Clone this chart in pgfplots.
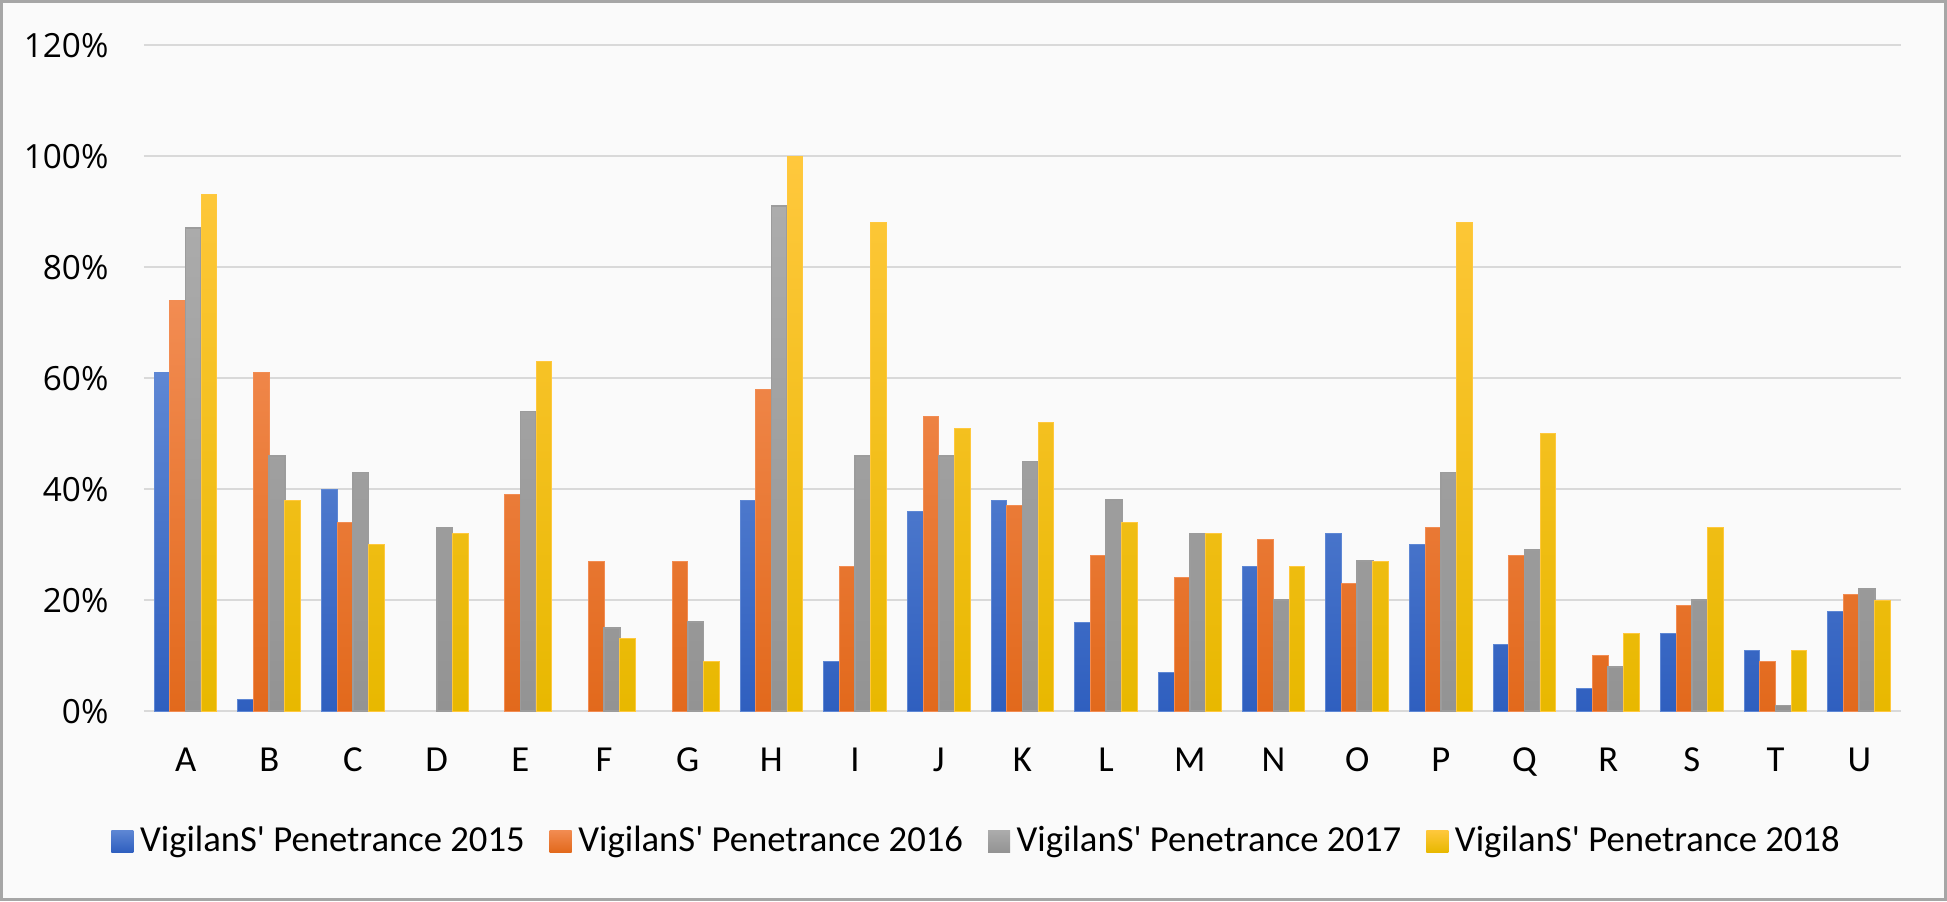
\documentclass[border=0pt]{standalone}
\usepackage{fontspec}
\setmainfont{Carlito}
\newfontfamily\tickfont{Open Sans}
\usepackage{pgfplots}
\usepackage{pgfplotstable}
\pgfplotsset{compat=1.18}

\definecolor{cBlueT}{HTML}{5E87D4}
\definecolor{cBlueB}{HTML}{2F5FBF}
\definecolor{cOrangeT}{HTML}{F28C52}
\definecolor{cOrangeB}{HTML}{E2691C}
\definecolor{cGrayT}{HTML}{ACACAC}
\definecolor{cGrayB}{HTML}{939393}
\definecolor{cGrayL}{HTML}{9C9C9C}
\definecolor{cYellowT}{HTML}{FFC83D}
\definecolor{cYellowB}{HTML}{E8B800}
\definecolor{cGrid}{HTML}{D9D9D9}
\definecolor{cFrame}{HTML}{A6A6A6}
\definecolor{cBack}{HTML}{FAFAFA}

% penetrance in percent, categories A..U at 0..20 (nan = no bar)
\pgfplotstableread{
x  y15 y16 y17 y18
0  61  74  87  93
1  2   61  46  38
2  40  34  43  30
3  nan nan 33  32
4  nan 39  54  63
5  nan 27  15  13
6  nan 27  16  9
7  38  58  91  100
8  9   26  46  88
9  36  53  46  51
10 38  37  45  52
11 16  28  38  34
12 7   24  32  32
13 26  31  20  26
14 32  23  27  27
15 30  33  43  88
16 12  28  29  50
17 4   10  8   14
18 14  19  20  33
19 11  9   1   11
20 18  21  22  20
}\datatable

\begin{document}
\begin{tikzpicture}
\fill[cBack] (-43.14pt,-57pt) rectangle (540.97pt,213.33pt);
\begin{axis}[
  at={(0pt,0pt)}, anchor=south west,
  scale only axis,
  width=527.2pt, height=199.8pt,
  ybar=0pt, bar width=4.7pt,
  xmin=-0.5, xmax=20.5,
  ymin=0, ymax=120,
  xtick={0,...,20},
  xticklabels={A,B,C,D,E,F,G,H,I,J,K,L,M,N,O,P,Q,R,S,T,U},
  ytick={0,20,...,120},
  yticklabels={0\%,20\%,40\%,60\%,80\%,100\%,120\%},
  axis line style={draw=none},
  major tick length=0pt,
  ymajorgrids,
  grid style={cGrid, line width=0.55pt},
  yticklabel style={font=\tickfont\fontsize{10}{12}\selectfont, anchor=east, inner sep=0pt, xshift=-10.4pt},
  xticklabel style={font=\fontsize{11}{13}\selectfont, anchor=base, yshift=-18pt},
  legend columns=4,
  legend style={at={(0.4752,-0.1952)}, anchor=center, draw=none, fill=none,
    font=\fontsize{11}{13}\selectfont,
    /tikz/every even column/.append style={column sep=5.5pt}},
  legend image code/.code={\path[#1, draw=none] (0pt,-3.3pt) rectangle (6.6pt,3.3pt);},
]
\addplot[top color=cBlueT, bottom color=cBlueB, draw=cBlueT, line width=0.3pt] table[x=x, y=y15] {\datatable};
\addplot[top color=cOrangeT, bottom color=cOrangeB, draw=cOrangeT, line width=0.3pt] table[x=x, y=y16] {\datatable};
\addplot[top color=cGrayT, bottom color=cGrayB, draw=cGrayL, line width=0.5pt] table[x=x, y=y17] {\datatable};
\addplot[top color=cYellowT, bottom color=cYellowB, draw=cYellowT, line width=0.3pt] table[x=x, y=y18] {\datatable};
\legend{VigilanS\textquotesingle{} Penetrance 2015, VigilanS\textquotesingle{} Penetrance 2016, VigilanS\textquotesingle{} Penetrance 2017, VigilanS\textquotesingle{} Penetrance 2018}
\end{axis}
\draw[cFrame, line width=0.8pt] (-42.74pt,-56.6pt) rectangle (540.57pt,212.93pt);
\end{tikzpicture}
\end{document}
